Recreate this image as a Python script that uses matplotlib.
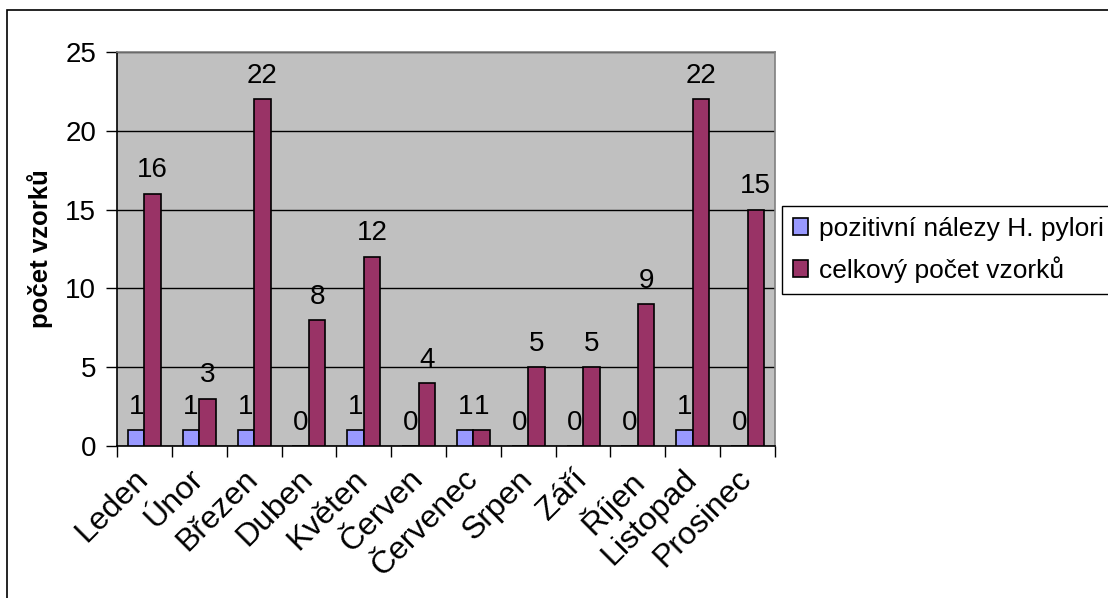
import numpy as np
import matplotlib.pyplot as plt
from matplotlib.patches import Rectangle

plt.rcParams['font.family'] = ['Liberation Sans', 'DejaVu Sans']

mesice = ["Leden", "Únor", "Březen", "Duben", "Květen", "Červen",
          "Červenec", "Srpen", "Září", "Říjen", "Listopad", "Prosinec"]
pozitivni = [1, 1, 1, 0, 1, 0, 1, 0, 0, 0, 1, 0]
celkem = [16, 3, 22, 8, 12, 4, 1, 5, 5, 9, 22, 15]

W, H = 1108, 598
fs = 20
fig = plt.figure(figsize=(W / 100, H / 100), dpi=100)
ax = fig.add_axes([117 / W, 1 - 446 / H, 658 / W, 394 / H])
ax.set_facecolor("#C0C0C0")

# outer chart border (runs off the right and bottom edges)
fig.patches.append(Rectangle((7 / W, -0.05), 1.2, 1 - 10 / H + 0.05,
                             transform=fig.transFigure, fill=False,
                             edgecolor="black", lw=1.2))

x = np.arange(len(mesice))
bw = 0.3
b1 = ax.bar(x - bw / 2, pozitivni, bw, color="#9999FF", edgecolor="black",
            lw=1.2, label="pozitivní nálezy H. pylori", zorder=3)
b2 = ax.bar(x + bw / 2, celkem, bw, color="#993366", edgecolor="black",
            lw=1.2, label="celkový počet vzorků", zorder=3)

for bars, vals in ((b1, pozitivni), (b2, celkem)):
    for r, v in zip(bars, vals):
        ax.annotate(str(v), (r.get_x() + r.get_width() / 2, v),
                    xytext=(0, 7.5), textcoords="offset points",
                    ha="center", va="bottom", fontsize=fs, zorder=4)

ax.set_xlim(-0.5, len(mesice) - 0.5)
ax.set_ylim(0, 25)
ax.set_yticks(range(0, 26, 5))
ax.yaxis.grid(True, color="black", lw=1, zorder=1)
ax.set_axisbelow(True)

# tick marks sit between the categories; the slanted month names hang
# from a point a little left of each category centre
ax.set_xticks(np.arange(-0.5, len(mesice), 1))
ax.set_xticklabels([])
ax.set_xticks(x - 0.2, minor=True)
ax.set_xticklabels(mesice, minor=True, rotation=45, ha="right",
                   rotation_mode="anchor", fontsize=23)
ax.tick_params(axis="x", which="major", direction="out", length=8, width=1)
ax.tick_params(axis="x", which="minor", length=0, pad=13)
ax.tick_params(axis="y", direction="out", length=8, width=1, labelsize=fs, pad=7)

for s in ("top", "right"):
    ax.spines[s].set_color("#808080")
    ax.spines[s].set_linewidth(1.2)
for s in ("left", "bottom"):
    ax.spines[s].set_color("black")
    ax.spines[s].set_linewidth(1.2)

ax.set_ylabel("počet vzorků", fontsize=18.5, fontweight="bold", labelpad=9)

fig.legend(handles=[b1, b2], loc="upper left",
           bbox_to_anchor=(782 / W, 1 - 206 / H), fontsize=19,
           frameon=True, fancybox=False, edgecolor="black", framealpha=1,
           handlelength=0.6, handleheight=0.6, handletextpad=0.4,
           borderpad=0.4, labelspacing=0.6, borderaxespad=0)

fig.savefig("out.png", dpi=100)
